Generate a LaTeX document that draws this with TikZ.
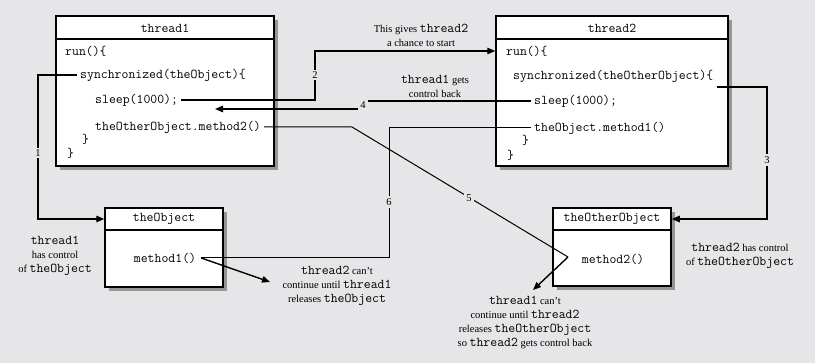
\documentclass[tikz,border=0pt]{standalone}
\usepackage{fontspec}
\setmainfont{Liberation Serif}
\usetikzlibrary{arrows.meta,shadows}
\definecolor{bg}{RGB}{230,230,232}
\definecolor{shad}{RGB}{150,150,150}
\newcommand\codefont{\fontsize{13.4}{15}\ttfamily}
\newcommand\mtt[1]{{\codefont #1}}
\begin{document}
\begin{tikzpicture}[x=1pt,y=-1pt,
  box/.style={draw, line width=1.5pt, fill=white, inner sep=0pt,
    general shadow={fill=shad, shadow xshift=4pt, shadow yshift=-4pt}},
  sepline/.style={line width=1.5pt},
  code/.style={font=\codefont, anchor=west, inner xsep=3pt, inner ysep=1pt},
  ttl/.style={font=\codefont, inner sep=1pt},
  lbl/.style={font=\fontsize{10.5}{12}\selectfont, fill=bg, inner sep=2pt},
  note/.style={font=\fontsize{10.5}{14}\selectfont, align=center, inner sep=0pt},
  tip/.style={-{Triangle[length=8pt,width=6.5pt]}},
  connA/.style={line width=1.4pt},
  connB/.style={line width=1.0pt},
  connC/.style={line width=1.9pt}]
\fill[bg] (0,0) rectangle (815,363);
\useasboundingbox (0,0) rectangle (815,363);
% boxes
\node[box, minimum width=218pt, minimum height=150pt] (t1) at (165,91) {};
\node[box, minimum width=232pt, minimum height=150pt] (t2) at (612,91) {};
\node[box, minimum width=118pt, minimum height=79pt] (o1) at (164,247.5) {};
\node[box, minimum width=118pt, minimum height=78pt] (o2) at (612,247) {};
\draw[sepline] (t1.west |- 0,39) -- (t1.east |- 0,39);
\draw[sepline] (t2.west |- 0,39) -- (t2.east |- 0,39);
\draw[sepline] (o1.west |- 0,230) -- (o1.east |- 0,230);
\draw[sepline] (o2.west |- 0,230) -- (o2.east |- 0,230);
% titles
\node[ttl] (t1title) at (165,28) {thread1};
\node[ttl] (t2title) at (612,28) {thread2};
\node[ttl] (o1title) at (164,219) {theObject};
\node[ttl] (o2title) at (612,219) {theOtherObject};
% thread1 code
\node[code] (t1run) at (62,51) {run()\{};
\node[code] (t1sync) at (77,75) {synchronized(theObject)\{};
\node[code] (t1sleep) at (92,100) {sleep(1000);};
\node[code] (t1m2) at (92,127) {theOtherObject.method2()};
\node[code] (t1b1) at (79,139) {\}};
\node[code] (t1b2) at (64,153) {\}};
% thread2 code
\node[code] (t2run) at (503,51) {run()\{};
\node[code] (t2sync) at (510,76) {synchronized(theOtherObject)\{};
\node[code] (t2sleep) at (531,101) {sleep(1000);};
\node[code] (t2m1) at (531,128) {theObject.method1()};
\node[code] (t2b1) at (519,140) {\}};
\node[code] (t2b2) at (504,155) {\}};
% object methods
\node[code, anchor=center, inner xsep=5pt] (m1) at (165,258) {method1()};
\node[code, anchor=center] (m2) at (613,259) {method2()};
% coordinates
\coordinate (c1) at (38,219);
\coordinate (c2) at (315,51);
\coordinate (c3) at (767,219);
\coordinate (c4) at (215,109);
\coordinate (c5a) at (352,127);
\coordinate (c5b) at (568,257);
\coordinate (c5c) at (533,290);
\coordinate (c6) at (389,128);
\coordinate (c7) at (270,282);
% connectors
\draw[connA, tip] (t1sync.west) -| (c1) -- (c1 -| o1.west);
\draw[connA, tip] (t1sleep.east) -| (c2) -- (c2 -| t2.west);
\draw[connA, tip] ([yshift=-11pt]t2sync.east) -| (c3) -- (c3 -| o2.east);
\node[lbl] (l4) at (363,105) {4};
\draw[connC] (t2sleep.west) -- (l4.east |- t2sleep.west);
\draw[connA, tip] (l4.west |- c4) -- (c4);
\draw[connB] (t1m2.east) -- (c5a) -- (c5b);
\draw[connA, tip] (c5b) -- (c5c);
\draw[connB] (m1.east) -| (c6) -- (t2m1.west);
\draw[connA, tip] (m1.east) -- (c7);
% labels
\node[lbl] (l1) at (38,153) {1};
\node[lbl] (l2) at (315,75) {2};
\node[lbl] (l3) at (767,160) {3};
\node[lbl] (l5) at (469,198) {5};
\node[lbl] (l6) at (389,202) {6};
% notes
\node[note] (n2) at (421,35.5) {This gives \mtt{thread2}\\a chance to start};
\node[note] (n4) at (435,86) {\mtt{thread1} gets\\control back};
\node[note] (no1) at (55,256) {\mtt{thread1}\\has control\\of \mtt{theObject}};
\node[note] (nm1) at (337,286) {\mtt{thread2} can’t\\continue until \mtt{thread1}\\releases \mtt{theObject}};
\node[note] (no2) at (740,255.5) {\mtt{thread2} has control\\of \mtt{theOtherObject}};
\node[note] (nm2) at (525,322.5) {\mtt{thread1} can’t\\continue until \mtt{thread2}\\releases \mtt{theOtherObject}\\so \mtt{thread2} gets control back};
\end{tikzpicture}
\end{document}
